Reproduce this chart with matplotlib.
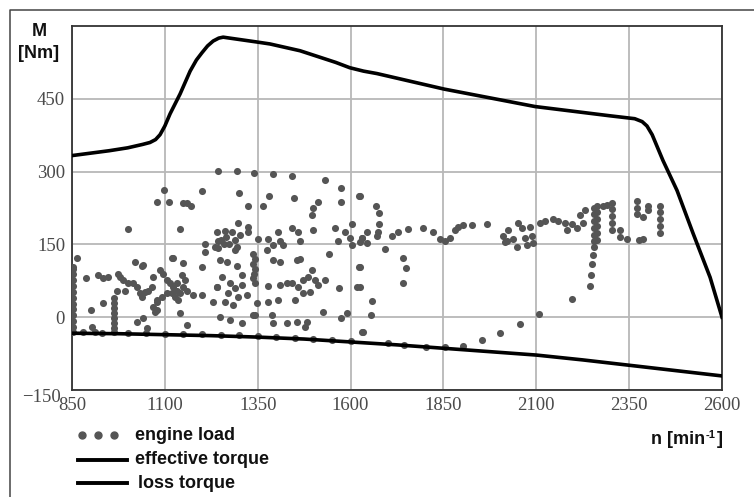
"""Engine load points over effective and loss torque curves."""

import matplotlib

matplotlib.use("Agg")
import matplotlib.pyplot as plt
import matplotlib.transforms as mtransforms
from matplotlib.lines import Line2D

# ---------------------------------------------------------------------------
# Data
# ---------------------------------------------------------------------------

# effective (full load) torque curve
eff_n = [850, 950, 1000, 1040, 1060, 1075, 1087, 1100, 1114, 1141, 1168, 1185,
         1200, 1215, 1230, 1245, 1257, 1275, 1348, 1383, 1464, 1560, 1598,
         1635, 1671, 1852, 2097, 2298, 2365, 2385, 2398, 2412, 2441, 2479,
         2522, 2568, 2600]
eff_m = [333, 343, 349, 356, 360, 366, 376, 394, 419, 460, 507, 530,
         545, 559, 569, 575, 577, 575, 567, 563, 549, 525, 514,
         507, 502, 470, 434, 415, 409, 403, 394, 376, 323, 261,
         173, 82, 0]

# loss (friction) torque curve
loss_n = [850, 975, 1100, 1225, 1350, 1475, 1600, 1725, 1850, 1975, 2100,
          2225, 2350, 2475, 2600]
loss_m = [-33, -34, -36, -38, -41, -45, -51, -57, -64, -71, -78,
          -88, -99, -110, -121]

# measured engine load operating points
engine_n = [
    # left edge column
    852, 852, 852, 852, 852, 852, 852, 852, 852, 852, 852, 852, 863, 853,
    # 880-1000
    888, 920, 947, 974, 934, 979, 987, 1001, 1014, 1025, 971, 992, 1001,
    904, 934, 901, 912, 962, 962, 962, 962, 962, 962, 962, 962,
    # points sitting on the loss curve
    880, 930, 1000, 1050, 1100, 1150, 1200, 1250, 1300, 1350, 1400, 1450,
    1500, 1550, 1600, 1700, 1744, 1803, 1854, 1903,
    # 1000-1250
    1020, 1038, 1041, 1119, 1149, 1122, 1200,
    1033, 1038, 1047, 1055, 1065, 1068, 1087, 1095, 1106, 1114, 1122, 1133,
    1141, 1149, 1160, 1154, 1146, 1133, 1119, 1127, 1135, 1106, 1092, 1079,
    1068, 1079, 1176, 1200, 1230, 1240,
    1025, 1041, 1141, 1160, 1052, 1073, 1079,
    1079, 1098, 1111, 1149, 1160, 1170, 1200, 1141, 1243,
    1208, 1208, 1243, 1243,
    # 1240-1640
    1294, 1340, 1391, 1442, 1531, 1574, 1574, 1623, 1300, 1324, 1364, 1380,
    1448, 1512, 1499, 1496, 1499, 1297,
    1265, 1272, 1280, 1288, 1295, 1302, 1258, 1290, 1240, 1250, 1262, 1235,
    1324, 1324, 1351, 1378, 1405, 1410, 1418, 1442, 1458, 1464,
    1375, 1391, 1410, 1391, 1456,
    1558, 1566, 1585, 1604, 1598, 1604, 1631,
    1542, 1464, 1623, 1617, 1569,
    1338, 1342, 1336, 1344, 1340, 1337, 1343,
    1248, 1267, 1294, 1308, 1254, 1275, 1289, 1308, 1240, 1270, 1297, 1321,
    1283, 1262, 1348,
    1378, 1410, 1429, 1442, 1458, 1472, 1485, 1496, 1504, 1512, 1491, 1472,
    1450, 1378, 1405, 1531,
    1343, 1388, 1391, 1429, 1456, 1483, 1477, 1248, 1275, 1308, 1526, 1574,
    1590, 1631, 1337,
    # 1620-2020
    1625, 1668, 1677, 1677, 1674, 1671, 1644, 1631, 1644, 1625, 1693,
    1712, 1728, 1755, 1795, 1822, 1841, 1854, 1868, 1881, 1889, 1903, 1927,
    1967, 2010, 2021,
    1741, 1749, 1741, 1625, 1625, 1658, 1655, 1633,
    1954, 2002, 2056, 2107,
    # 2000-2450
    2024, 2037, 2051, 2062, 2070, 2075, 2083, 2088, 2091, 2048, 2016,
    2110, 2123, 2145, 2158, 2177, 2183, 2196, 2210, 2218, 2231, 2226,
    2255, 2255, 2255, 2255, 2255, 2255, 2255, 2253, 2250, 2247, 2245, 2196,
    2264, 2264, 2264, 2264, 2264, 2264,
    2303, 2303, 2303, 2303, 2303, 2280, 2290,
    2325, 2325, 2344,
    2372, 2372, 2372, 2387, 2377, 2387, 2400, 2400,
    2432, 2432, 2432, 2432, 2432,
]
engine_m = [
    # left edge column
    100, 88, 76, 64, 52, 40, 28, 16, 4, -8, -20, -30, 121, 103,
    # 880-1000
    80, 86, 82, 90, 80, 82, 76, 70, 70, 62, 55, 55, 181,
    -21, 29, 14, -31, 39, 29, 18, 8, -2, -12, -22, -31,
    # points sitting on the loss curve
    -31, -32, -32, -33, -34, -35, -35, -36, -37, -39, -41, -43,
    -45, -47, -49, -54, -58, -62, -62, -60,
    # 1000-1250
    113, 105, 107, 121, 111, 123, 103,
    49, 41, 51, 55, 62, 82, 97, 90, 76, 70, 62, 55,
    49, 62, 55, 76, 86, 70, 49, 41, 35, 49, 41, 35,
    21, 14, 45, 45, 31, 62,
    -10, -2, 8, -16, -23, 10, 31,
    238, 263, 238, 236, 236, 230, 259, 181, 302,
    150, 134, 158, 142,
    # 1240-1640
    302, 298, 296, 290, 282, 267, 238, 249, 255, 230, 230, 249,
    245, 238, 224, 210, 179, 195,
    165, 150, 175, 160, 145, 170, 150, 138, 175, 160, 178, 145,
    185, 175, 162, 162, 175, 158, 148, 183, 175, 158,
    138, 117, 113, 148, 117,
    183, 158, 175, 193, 164, 148, 164,
    131, 119, 103, 62, 60,
    130, 120, 110, 100, 90, 80, 70,
    117, 113, 105, 86, 82, 70, 60, 66, 62, 49, 41, 45,
    25, 31, 29,
    64, 66, 70, 70, 62, 76, 82, 97, 76, 66, 51, 49,
    35, 31, 35, 76,
    4, 4, -12, -12, -10, -10, -21, 0, -6, -12, 10, -2,
    8, -31, 4,
    # 1620-2020
    249, 230, 214, 193, 175, 168, 175, 164, 152, 154, 140,
    168, 175, 181, 183, 175, 162, 158, 164, 179, 185, 189, 189,
    193, 168, 158,
    123, 101, 70, 103, 62, 33, 4, -31,
    -47, -33, -14, 6,
    # 2000-2450
    179, 162, 195, 183, 164, 148, 185, 168, 152, 144, 154,
    195, 199, 203, 199, 195, 179, 193, 183, 210, 220, 195,
    226, 212, 198, 184, 170, 156, 144, 129, 109, 86, 64, 37,
    230, 216, 202, 188, 174, 160,
    235, 222, 208, 194, 180, 230, 232,
    180, 165, 162,
    240, 226, 212, 206, 160, 162, 230, 220,
    230, 216, 202, 188, 174,
]

x_ticks = [850, 1100, 1350, 1600, 1850, 2100, 2350, 2600]
y_ticks = [-150, 0, 150, 300, 450]

# ---------------------------------------------------------------------------
# Figure
# ---------------------------------------------------------------------------

W, H = 754, 497
fig = plt.figure(figsize=(W / 100, H / 100), dpi=100, facecolor="white")


def fx(px):
    return px / W


def fy(py):
    return 1 - py / H


ax = fig.add_axes([fx(72), fy(390), fx(722) - fx(72), fy(26) - fy(390)])

dot_color = "#555555"
ax.scatter(engine_n, engine_m, s=26, color=dot_color, linewidths=0, zorder=3)
ax.plot(eff_n, eff_m, color="black", lw=2.6, solid_joinstyle="round", zorder=4)
ax.plot(loss_n, loss_m, color="black", lw=2.6, solid_joinstyle="round", zorder=4)

ax.set_xlim(850, 2600)
ax.set_ylim(-150, 600)
ax.set_xticks(x_ticks)
ax.set_yticks(y_ticks)
ax.grid(True, color="#b8b8b8", lw=1.3)
ax.set_axisbelow(True)
for spine in ax.spines.values():
    spine.set_color("#333333")
    spine.set_linewidth(1.3)

ax.tick_params(axis="both", length=0, pad=5)
for lab in ax.get_xticklabels() + ax.get_yticklabels():
    lab.set_fontfamily("Liberation Serif")
    lab.set_fontsize(13.5)
    lab.set_color("#4a4a4a")
# the lowest y label sits a bit lower and further left than the others
low_lab = ax.get_yticklabels()[0]
low_lab.set_transform(low_lab.get_transform()
                      + mtransforms.ScaledTranslation(-3 / 72, -4 / 72, fig.dpi_scale_trans))

label_font = dict(family="Liberation Sans", weight="bold", size=13, color="#111111")

# axis titles
fig.text(fx(39), fy(32), "M", ha="center", va="center", **label_font)
fig.text(fx(39), fy(53), "[Nm]", ha="center", va="center", **label_font)

xl = fig.text(fx(651), fy(440), "n [min", ha="left", va="center", **label_font)
sup = fig.text(0, 0, "-1", ha="left", va="bottom",
               family="Liberation Sans", weight="bold", size=8, color="#111111")
# place superscript and closing bracket after the main text
fig.canvas.draw()
renderer = fig.canvas.get_renderer()
bb = xl.get_window_extent(renderer).transformed(fig.transFigure.inverted())
sup.set_position((bb.x1 + 0.0005, bb.y1 - 0.018))
fig.canvas.draw()
bb2 = sup.get_window_extent(renderer).transformed(fig.transFigure.inverted())
fig.text(bb2.x1 + 0.0015, fy(440), "]", ha="left", va="center", **label_font)

# hand drawn legend under the plot
for px in (82, 98, 114):
    fig.add_artist(Line2D([fx(px)], [fy(435)], marker="o", ms=5, color=dot_color,
                          lw=0, transform=fig.transFigure))
for py in (460, 483):
    fig.add_artist(Line2D([fx(78), fx(127)], [fy(py), fy(py)], color="black", lw=2.8,
                          transform=fig.transFigure))
fig.text(fx(135), fy(435), "engine load", ha="left", va="center", **label_font)
fig.text(fx(135), fy(460), "effective torque", ha="left", va="center", **label_font)
fig.text(fx(138), fy(483), "loss torque", ha="left", va="center", **label_font)

# outer frame (left and top edges visible in the original)
fig.add_artist(Line2D([fx(10), fx(10), fx(760)], [fy(500), fy(10), fy(10)],
                      color="#444444", lw=1.1, transform=fig.transFigure))

fig.savefig("out.png", dpi=100, facecolor="white")
